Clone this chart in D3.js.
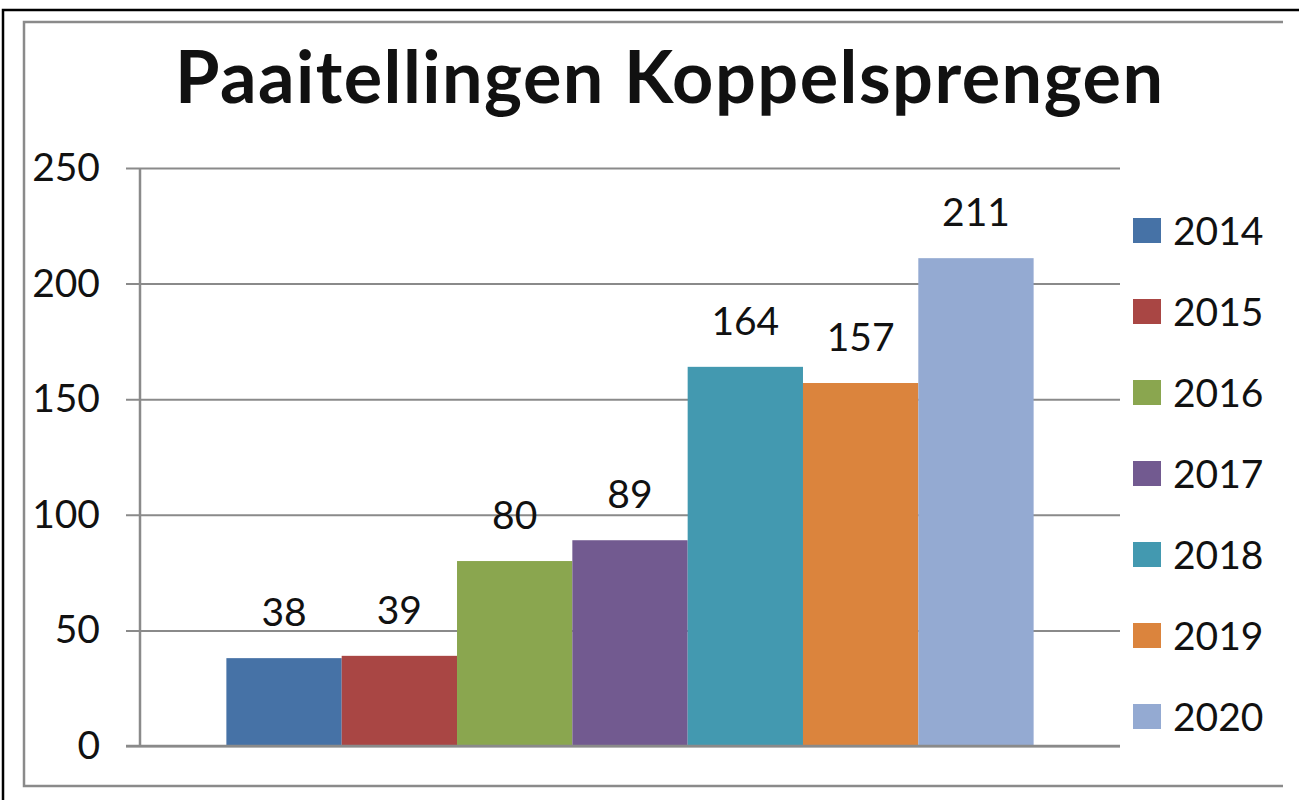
<!DOCTYPE html>
<html>
<head>
<meta charset="utf-8">
<script src="https://cdn.jsdelivr.net/npm/d3@7"></script>
<style>
  body { margin: 0; background: #fff; }
  svg text { font-family: Lato, "Open Sans", sans-serif; fill: #111; }
</style>
</head>
<body>
<div id="chart"></div>
<script>
const WIDTH = 1299;
const HEIGHT = 800;

// data
const title = "Paaitellingen Koppelsprengen";
const category = ["Koppelsprengen"];
const years = ["2014", "2015", "2016", "2017", "2018", "2019", "2020"];
const counts = [38, 39, 80, 89, 164, 157, 211];
const colors = ["#4672a6", "#a94644", "#8aa64f", "#725a90", "#4399b0", "#db843d", "#94aad2"];
const yTicks = [0, 50, 100, 150, 200, 250];

const rows = years.map((y, i) => ({ year: y, value: counts[i], color: colors[i] }));

const svg = d3.select("#chart").append("svg")
  .attr("width", WIDTH)
  .attr("height", HEIGHT);

// outer frame (cut off at the right and bottom)
svg.append("path")
  .attr("d", `M 3 ${HEIGHT + 5} L 3 10 L ${WIDTH + 5} 10`)
  .attr("fill", "none")
  .attr("stroke", "#000")
  .attr("stroke-width", 2.5);

// chart area border, right side is cropped away in the original
svg.append("path")
  .attr("d", "M 1283 22 L 24 22 L 24 786 L 1283 786")
  .attr("fill", "none")
  .attr("stroke", "#8a8a8a")
  .attr("stroke-width", 2.5);

const plot = { left: 140, right: 1120, top: 168, bottom: 746 };

const y = d3.scaleLinear().domain([0, 250]).range([plot.bottom, plot.top]);

const x0 = d3.scaleBand()
  .domain(category)
  .range([plot.left, plot.right])
  .paddingInner(0)
  .paddingOuter(0.107);

const x1 = d3.scaleBand()
  .domain(years)
  .range([0, x0.bandwidth()]);

// gridlines + tick labels
const yAxis = d3.axisLeft(y)
  .tickValues(yTicks)
  .tickSize(-(plot.right - plot.left + 14))
  .tickPadding(26)
  .tickFormat(d3.format("d"));

const gy = svg.append("g")
  .attr("transform", `translate(${plot.left - 14},0)`)
  .call(yAxis);

gy.select(".domain").remove();
gy.selectAll(".tick line")
  .attr("stroke", "#8a8a8a")
  .attr("stroke-width", 2);
gy.selectAll(".tick text")
  .style("font-size", "39px")
  .attr("fill", "#111");

// y axis line
svg.append("line")
  .attr("x1", plot.left).attr("x2", plot.left)
  .attr("y1", plot.top).attr("y2", plot.bottom)
  .attr("stroke", "#8a8a8a")
  .attr("stroke-width", 2.5);

// bars
const grp = svg.append("g")
  .attr("transform", `translate(${x0(category[0])},0)`);

grp.selectAll("rect.bar")
  .data(rows)
  .join("rect")
  .attr("class", "bar")
  .attr("x", d => x1(d.year))
  .attr("y", d => y(d.value))
  .attr("width", x1.bandwidth())
  .attr("height", d => y(0) - y(d.value))
  .attr("fill", d => d.color);

grp.selectAll("text.val")
  .data(rows)
  .join("text")
  .attr("class", "val")
  .attr("x", d => x1(d.year) + x1.bandwidth() / 2)
  .attr("y", d => y(d.value) - 32)
  .attr("text-anchor", "middle")
  .style("font-size", "39px")
  .text(d => d.value);

// baseline over bars
svg.append("line")
  .attr("x1", plot.left - 14).attr("x2", plot.right)
  .attr("y1", plot.bottom).attr("y2", plot.bottom)
  .attr("stroke", "#8a8a8a")
  .attr("stroke-width", 2.5);

// title
svg.append("text")
  .attr("x", 669)
  .attr("y", 103)
  .attr("text-anchor", "middle")
  .attr("textLength", 988)
  .attr("lengthAdjust", "spacing")
  .style("font-size", "72px")
  .style("font-weight", "bold")
  .text(title);

// legend
const legend = svg.append("g")
  .attr("transform", "translate(1133,0)");

const item = legend.selectAll("g")
  .data(rows)
  .join("g")
  .attr("transform", (d, i) => `translate(0, ${231 + 81 * i})`);

item.append("rect")
  .attr("x", 0).attr("y", -13)
  .attr("width", 28).attr("height", 25)
  .attr("fill", d => d.color);

item.append("text")
  .attr("x", 40)
  .attr("y", 0)
  .attr("dy", "0.36em")
  .style("font-size", "39px")
  .text(d => d.year);
</script>
</body>
</html>
